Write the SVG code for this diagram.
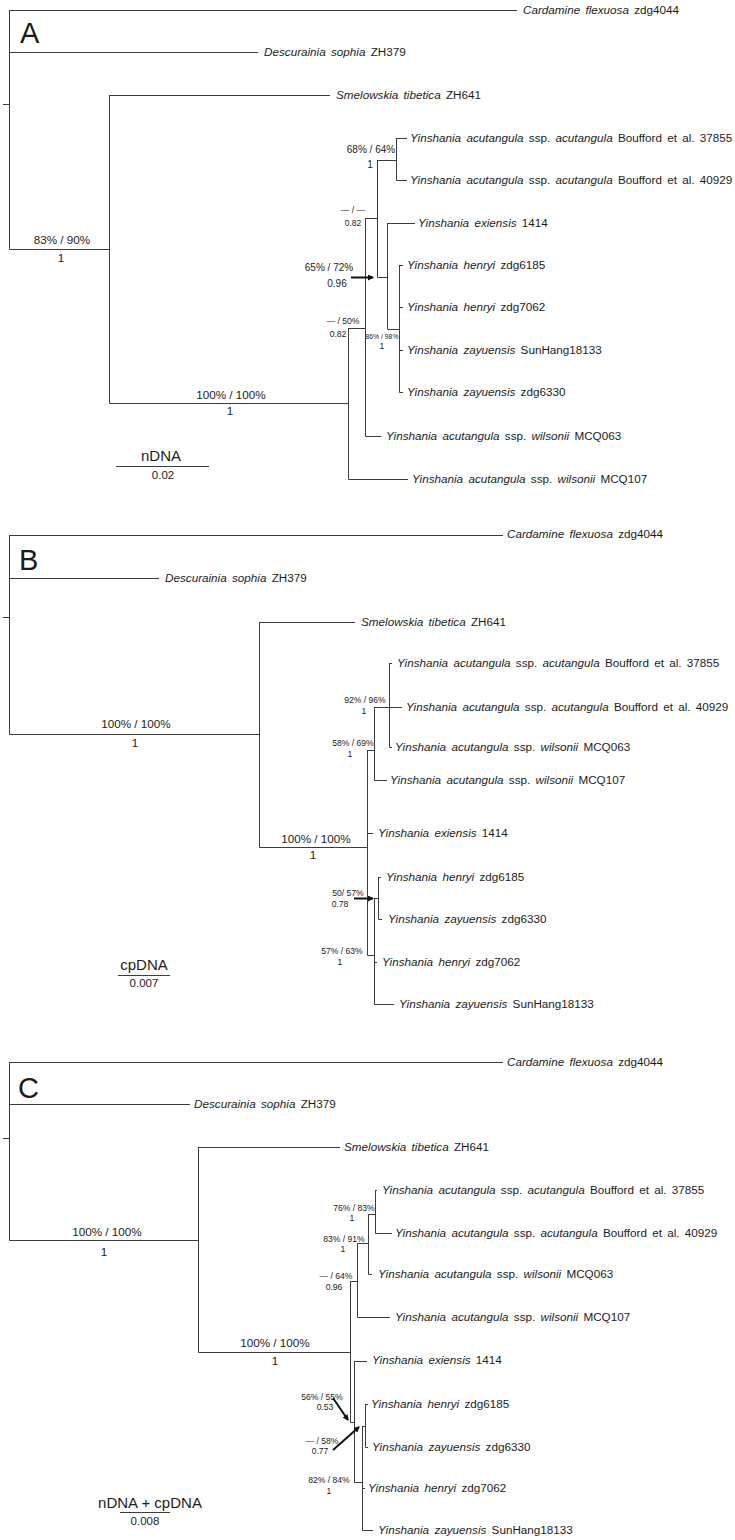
<svg xmlns="http://www.w3.org/2000/svg" width="735" height="1540" viewBox="0 0 735 1540">
<style>
.br{fill:none;stroke:#3c3c3c;stroke-width:1}
.ar{fill:none;stroke:#111;stroke-width:2}
text{font-family:"Liberation Sans",Arial,sans-serif;fill:#1c1c1c}
.sp{font-size:11.7px;word-spacing:2px}
.i{font-style:italic}
.big{font-size:29px}
.s12{font-size:11.7px;text-anchor:middle}
.s10{font-size:10px;text-anchor:middle}
.s9{font-size:8.6px;text-anchor:middle}
.s7{font-size:6.8px;text-anchor:middle}
.sc{font-size:15px;text-anchor:middle}
.sn{font-size:11.5px;text-anchor:middle}
</style>
<defs>
<marker id="ah" viewBox="0 0 6 6" refX="5" refY="3" markerWidth="3" markerHeight="3" orient="auto" markerUnits="strokeWidth">
<path d="M0,0 L6,3 L0,6 Z" fill="#111"/>
</marker>
</defs>
<rect width="735" height="1540" fill="#fff"/>

<g id="connectors">
<!-- Panel A -->
<path class="br" d="M3,104.5 H9.5 M9.5,10 V249.5 M9.5,10.5 H517 M9.5,52.5 H258 M9.5,249.5 H109.5 M109.5,95 V403.5 M109.5,95.5 H330 M109.5,403.5 H348.5 M348.5,328 V479.5 M348.5,479.5 H408 M348.5,328.5 H365.5 M365.5,218 V436.5 M365.5,436.5 H381 M365.5,218.5 H377.5 M377.5,160 V277.5 M377.5,160.5 H396.5 M396.5,138 V180.5 M396.5,138.5 H407 M396.5,180.5 H407 M377.5,277.5 H387.5 M387.5,223 V329.5 M387.5,223.5 H415 M387.5,329.5 H399.5 M399.5,265 V392.5 M399.5,265.5 H403 M399.5,307.5 H403 M399.5,350.5 H403 M399.5,392.5 H403"/>
<path class="ar" d="M351,277.5 H373" marker-end="url(#ah)"/>
<path class="br" d="M116,466.5 H209"/>
<!-- Panel B -->
<path class="br" d="M3,617.5 H9.5 M9.5,535 V734.5 M9.5,535.5 H503 M9.5,578.5 H159 M9.5,734.5 H259.5 M259.5,622 V847.5 M259.5,622.5 H355 M259.5,847.5 H367.5 M367.5,750 V955.5 M367.5,833.5 H373 M367.5,750.5 H374.5 M374.5,707 V780.5 M374.5,780.5 H387 M374.5,707.5 H402 M389.5,663 V747.5 M389.5,663.5 H392 M389.5,747.5 H392 M367.5,955.5 H374.5 M374.5,898 V1004.5 M374.5,898.5 H378.5 M378.5,877 V919.5 M378.5,877.5 H381 M378.5,919.5 H382 M374.5,962.5 H377 M374.5,1004.5 H394"/>
<path class="ar" d="M354,898.5 H373" marker-end="url(#ah)"/>
<path class="br" d="M118,975.5 H170"/>
<!-- Panel C -->
<path class="br" d="M3,1138.5 H9.5 M9.5,1062 V1240.5 M9.5,1062.5 H503 M9.5,1104.5 H190 M9.5,1240.5 H198.5 M198.5,1147 V1352.5 M198.5,1147.5 H340 M198.5,1352.5 H350.5 M350.5,1281 V1422.5 M350.5,1281.5 H357.5 M357.5,1243 V1317.5 M357.5,1317.5 H390 M357.5,1243.5 H368.5 M368.5,1214 V1274.5 M368.5,1274.5 H372 M368.5,1214.5 H375.5 M375.5,1190 V1233.5 M375.5,1190.5 H377 M375.5,1233.5 H392 M350.5,1422.5 H354.5 M354.5,1361 V1482.5 M354.5,1361.5 H367 M354.5,1482.5 H362.5 M362.5,1426 V1530.5 M362.5,1426.5 H365.5 M365.5,1404 V1447.5 M365.5,1404.5 H368 M365.5,1447.5 H368 M362.5,1488.5 H365 M362.5,1530.5 H373"/>
<path class="ar" d="M333,1398 L348,1420" marker-end="url(#ah)"/>
<path class="ar" d="M333,1450 L359,1427" marker-end="url(#ah)"/>
<path class="br" d="M120,1512.5 H170"/>
</g>

<!-- Panel A nodes -->
<g id="A-label"><text class="big" x="20" y="43">A</text></g>
<g id="A-cardamine"><text class="sp" x="523" y="14"><tspan class="i">Cardamine</tspan> <tspan class="i">flexuosa</tspan> zdg4044</text></g>
<g id="A-descurainia"><text class="sp" x="264" y="56"><tspan class="i">Descurainia</tspan> <tspan class="i">sophia</tspan> ZH379</text></g>
<g id="A-smelowskia"><text class="sp" x="336" y="99"><tspan class="i">Smelowskia</tspan> <tspan class="i">tibetica</tspan> ZH641</text></g>
<g id="A-acu37855"><text class="sp" x="410" y="142"><tspan class="i">Yinshania</tspan> <tspan class="i">acutangula</tspan> ssp. <tspan class="i">acutangula</tspan> Boufford et al. 37855</text></g>
<g id="A-acu40929"><text class="sp" x="410" y="184"><tspan class="i">Yinshania</tspan> <tspan class="i">acutangula</tspan> ssp. <tspan class="i">acutangula</tspan> Boufford et al. 40929</text></g>
<g id="A-exiensis"><text class="sp" x="418" y="227"><tspan class="i">Yinshania</tspan> <tspan class="i">exiensis</tspan> 1414</text></g>
<g id="A-henryi6185"><text class="sp" x="407" y="269"><tspan class="i">Yinshania</tspan> <tspan class="i">henryi</tspan> zdg6185</text></g>
<g id="A-henryi7062"><text class="sp" x="407" y="311"><tspan class="i">Yinshania</tspan> <tspan class="i">henryi</tspan> zdg7062</text></g>
<g id="A-zay18133"><text class="sp" x="407" y="354"><tspan class="i">Yinshania</tspan> <tspan class="i">zayuensis</tspan> SunHang18133</text></g>
<g id="A-zay6330"><text class="sp" x="407" y="396"><tspan class="i">Yinshania</tspan> <tspan class="i">zayuensis</tspan> zdg6330</text></g>
<g id="A-wil063"><text class="sp" x="386" y="440"><tspan class="i">Yinshania</tspan> <tspan class="i">acutangula</tspan> ssp. <tspan class="i">wilsonii</tspan> MCQ063</text></g>
<g id="A-wil107"><text class="sp" x="412" y="483"><tspan class="i">Yinshania</tspan> <tspan class="i">acutangula</tspan> ssp. <tspan class="i">wilsonii</tspan> MCQ107</text></g>
<g id="A-support">
<text class="s12" x="62" y="244">83% / 90%</text><text class="s12" x="61" y="262">1</text>
<text class="s12" x="231" y="399">100% / 100%</text><text class="s12" x="230" y="415">1</text>
<text class="s10" x="371" y="153">68% / 64%</text><text class="s10" x="370" y="168">1</text>
<text class="s9" x="353" y="213">— / —</text><text class="s9" x="353" y="226">0.82</text>
<text class="s10" x="329" y="271">65% / 72%</text><text class="s10" x="337" y="287">0.96</text>
<text class="s9" x="343" y="324">— / 50%</text><text class="s9" x="338" y="337">0.82</text>
<text class="s7" x="382" y="339">86% / 98%</text><text class="s9" x="382" y="349">1</text>
</g>
<g id="A-scale"><text class="sc" x="161" y="461">nDNA</text><text class="sn" x="163" y="479">0.02</text></g>

<!-- Panel B nodes -->
<g id="B-label"><text class="big" x="19" y="570">B</text></g>
<g id="B-cardamine"><text class="sp" x="507" y="538"><tspan class="i">Cardamine</tspan> <tspan class="i">flexuosa</tspan> zdg4044</text></g>
<g id="B-descurainia"><text class="sp" x="165" y="582"><tspan class="i">Descurainia</tspan> <tspan class="i">sophia</tspan> ZH379</text></g>
<g id="B-smelowskia"><text class="sp" x="361" y="626"><tspan class="i">Smelowskia</tspan> <tspan class="i">tibetica</tspan> ZH641</text></g>
<g id="B-acu37855"><text class="sp" x="397" y="667"><tspan class="i">Yinshania</tspan> <tspan class="i">acutangula</tspan> ssp. <tspan class="i">acutangula</tspan> Boufford et al. 37855</text></g>
<g id="B-acu40929"><text class="sp" x="406" y="711"><tspan class="i">Yinshania</tspan> <tspan class="i">acutangula</tspan> ssp. <tspan class="i">acutangula</tspan> Boufford et al. 40929</text></g>
<g id="B-wil063"><text class="sp" x="395" y="751"><tspan class="i">Yinshania</tspan> <tspan class="i">acutangula</tspan> ssp. <tspan class="i">wilsonii</tspan> MCQ063</text></g>
<g id="B-wil107"><text class="sp" x="390" y="784"><tspan class="i">Yinshania</tspan> <tspan class="i">acutangula</tspan> ssp. <tspan class="i">wilsonii</tspan> MCQ107</text></g>
<g id="B-exiensis"><text class="sp" x="378" y="837"><tspan class="i">Yinshania</tspan> <tspan class="i">exiensis</tspan> 1414</text></g>
<g id="B-henryi6185"><text class="sp" x="386" y="881"><tspan class="i">Yinshania</tspan> <tspan class="i">henryi</tspan> zdg6185</text></g>
<g id="B-zay6330"><text class="sp" x="388" y="923"><tspan class="i">Yinshania</tspan> <tspan class="i">zayuensis</tspan> zdg6330</text></g>
<g id="B-henryi7062"><text class="sp" x="382" y="966"><tspan class="i">Yinshania</tspan> <tspan class="i">henryi</tspan> zdg7062</text></g>
<g id="B-zay18133"><text class="sp" x="399" y="1008"><tspan class="i">Yinshania</tspan> <tspan class="i">zayuensis</tspan> SunHang18133</text></g>
<g id="B-support">
<text class="s12" x="136" y="728">100% / 100%</text><text class="s12" x="135" y="747">1</text>
<text class="s12" x="316" y="843">100% / 100%</text><text class="s12" x="313" y="859">1</text>
<text class="s9" x="365" y="703">92% / 96%</text><text class="s9" x="364" y="714">1</text>
<text class="s9" x="353" y="746">58% / 69%</text><text class="s9" x="350" y="757">1</text>
<text class="s9" x="348" y="896">50/ 57%</text><text class="s9" x="340" y="907">0.78</text>
<text class="s9" x="342" y="954">57% / 63%</text><text class="s9" x="340" y="965">1</text>
</g>
<g id="B-scale"><text class="sc" x="144" y="970">cpDNA</text><text class="sn" x="144" y="987">0.007</text></g>

<!-- Panel C nodes -->
<g id="C-label"><text class="big" x="18" y="1098">C</text></g>
<g id="C-cardamine"><text class="sp" x="507" y="1066"><tspan class="i">Cardamine</tspan> <tspan class="i">flexuosa</tspan> zdg4044</text></g>
<g id="C-descurainia"><text class="sp" x="194" y="1108"><tspan class="i">Descurainia</tspan> <tspan class="i">sophia</tspan> ZH379</text></g>
<g id="C-smelowskia"><text class="sp" x="344" y="1151"><tspan class="i">Smelowskia</tspan> <tspan class="i">tibetica</tspan> ZH641</text></g>
<g id="C-acu37855"><text class="sp" x="382" y="1194"><tspan class="i">Yinshania</tspan> <tspan class="i">acutangula</tspan> ssp. <tspan class="i">acutangula</tspan> Boufford et al. 37855</text></g>
<g id="C-acu40929"><text class="sp" x="395" y="1237"><tspan class="i">Yinshania</tspan> <tspan class="i">acutangula</tspan> ssp. <tspan class="i">acutangula</tspan> Boufford et al. 40929</text></g>
<g id="C-wil063"><text class="sp" x="378" y="1278"><tspan class="i">Yinshania</tspan> <tspan class="i">acutangula</tspan> ssp. <tspan class="i">wilsonii</tspan> MCQ063</text></g>
<g id="C-wil107"><text class="sp" x="395" y="1321"><tspan class="i">Yinshania</tspan> <tspan class="i">acutangula</tspan> ssp. <tspan class="i">wilsonii</tspan> MCQ107</text></g>
<g id="C-exiensis"><text class="sp" x="372" y="1364"><tspan class="i">Yinshania</tspan> <tspan class="i">exiensis</tspan> 1414</text></g>
<g id="C-henryi6185"><text class="sp" x="371" y="1408"><tspan class="i">Yinshania</tspan> <tspan class="i">henryi</tspan> zdg6185</text></g>
<g id="C-zay6330"><text class="sp" x="372" y="1451"><tspan class="i">Yinshania</tspan> <tspan class="i">zayuensis</tspan> zdg6330</text></g>
<g id="C-henryi7062"><text class="sp" x="368" y="1492"><tspan class="i">Yinshania</tspan> <tspan class="i">henryi</tspan> zdg7062</text></g>
<g id="C-zay18133"><text class="sp" x="378" y="1534"><tspan class="i">Yinshania</tspan> <tspan class="i">zayuensis</tspan> SunHang18133</text></g>
<g id="C-support">
<text class="s12" x="107" y="1236">100% / 100%</text><text class="s12" x="104" y="1256">1</text>
<text class="s12" x="275" y="1347">100% / 100%</text><text class="s12" x="275" y="1365">1</text>
<text class="s9" x="354" y="1211">76% / 83%</text><text class="s9" x="352" y="1221">1</text>
<text class="s9" x="344" y="1242">83% / 91%</text><text class="s9" x="343" y="1252">1</text>
<text class="s9" x="336" y="1279">— / 64%</text><text class="s9" x="334" y="1290">0.96</text>
<text class="s9" x="322" y="1400">56% / 55%</text><text class="s9" x="325" y="1410">0.53</text>
<text class="s9" x="322" y="1444">— / 58%</text><text class="s9" x="320" y="1454">0.77</text>
<text class="s9" x="329" y="1483">82% / 84%</text><text class="s9" x="329" y="1494">1</text>
</g>
<g id="C-scale"><text class="sc" x="150" y="1508">nDNA + cpDNA</text><text class="sn" x="145" y="1525">0.008</text></g>
</svg>
